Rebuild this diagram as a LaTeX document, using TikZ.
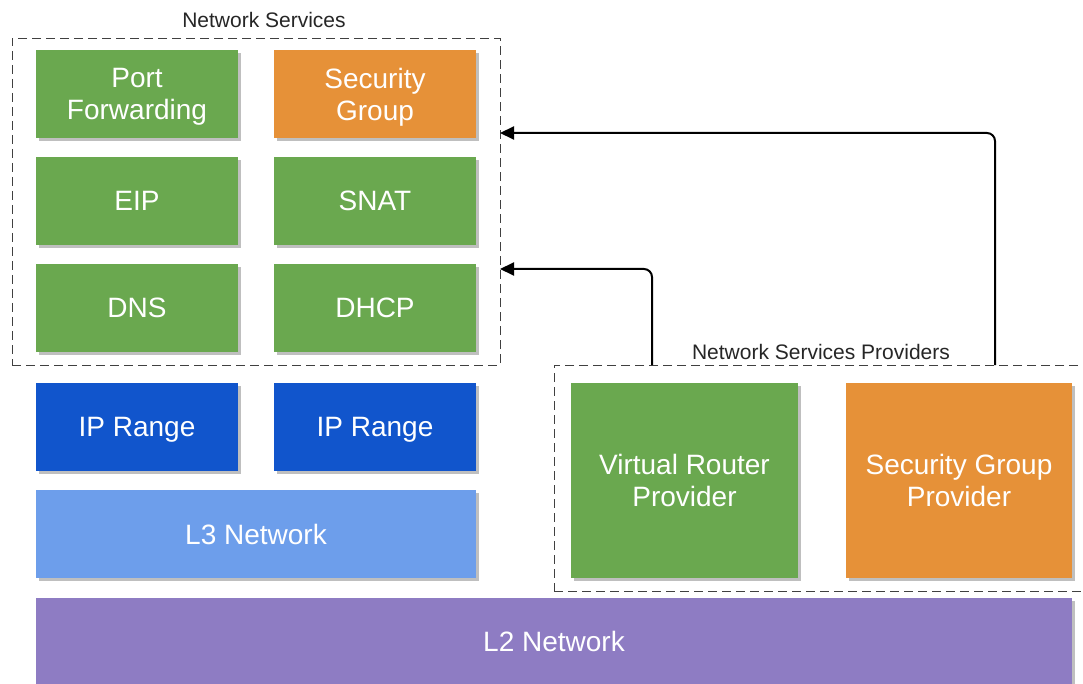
\documentclass[tikz,border=0pt]{standalone}
\usepackage{fontspec}
\setmainfont{Liberation Sans}
\usetikzlibrary{positioning}
\usetikzlibrary{arrows.meta}
\usetikzlibrary{shadows}

\definecolor{gdgreen}{RGB}{106,168,79}
\definecolor{gdorange}{RGB}{230,145,56}
\definecolor{gdblue}{RGB}{17,85,204}
\definecolor{gdlightblue}{RGB}{109,158,235}
\definecolor{gdpurple}{RGB}{142,124,195}

\tikzset{
  block/.style={rectangle, inner sep=0pt, text=white, align=center, text depth=0pt,
    font=\fontsize{28}{32}\selectfont,
    drop shadow={shadow xshift=3pt, shadow yshift=-3pt, fill=black!25, opacity=1}},
  group/.style={rectangle, draw=black!75, dash pattern=on 9pt off 5pt, inner sep=0pt},
  grouplabel/.style={font=\fontsize{21}{24}\selectfont, text=black!85},
  link/.style={draw=black, line width=2pt, rounded corners=8pt,
    -{Triangle[length=14pt,width=13pt]}}
}

\begin{document}
\begin{tikzpicture}[x=1pt, y=-1pt]
  \useasboundingbox (0,0) rectangle (1083,684);

  % dashed groups
  \node[group, minimum width=488pt, minimum height=327pt] (ns) at (256,201.5) {};
  \node[grouplabel] (nslabel) at (264,20) {Network Services};
  \node[group, minimum width=534pt, minimum height=226pt] (nsp) at (821,478) {};
  \node[grouplabel] (nsplabel) at (821,352) {Network Services Providers};

  % services
  \foreach \name/\txt/\col/\x/\y in {pf/{Port\\Forwarding}/gdgreen/137/94,
      sg/{Security\\Group}/gdorange/375/94,
      eip/EIP/gdgreen/137/201, snat/SNAT/gdgreen/375/201,
      dns/DNS/gdgreen/137/308, dhcp/DHCP/gdgreen/375/308}
    {\node[block, fill=\col, minimum width=202pt, minimum height=88pt] (\name) at (\x,\y) {\txt};}

  % ip ranges
  \foreach \i/\x in {1/137, 2/375}
    {\node[block, fill=gdblue, minimum width=202pt, minimum height=88pt] (ip\i) at (\x,427) {IP Range};}

  \node[block, fill=gdlightblue, minimum width=440pt, minimum height=88pt] (l3) at (256,534) {L3 Network};
  \node[block, fill=gdpurple, minimum width=1036pt, minimum height=86pt] (l2) at (554,641) {L2 Network};

  % providers
  \node[block, fill=gdgreen, minimum width=227pt, minimum height=195pt] (vrp) at (684.5,480.5) {Virtual Router\\Provider};
  \node[block, fill=gdorange, minimum width=226pt, minimum height=195pt] (sgp) at (959,480.5) {Security Group\\Provider};

  \coordinate (vrtap) at (652,365);
  \coordinate (sgtap) at (995,365);
  \coordinate (nsin1) at (500,269);
  \coordinate (nsin2) at (500,133);

  \draw[link] (vrtap) |- (nsin1);
  \draw[link] (sgtap) |- (nsin2);
\end{tikzpicture}
\end{document}
